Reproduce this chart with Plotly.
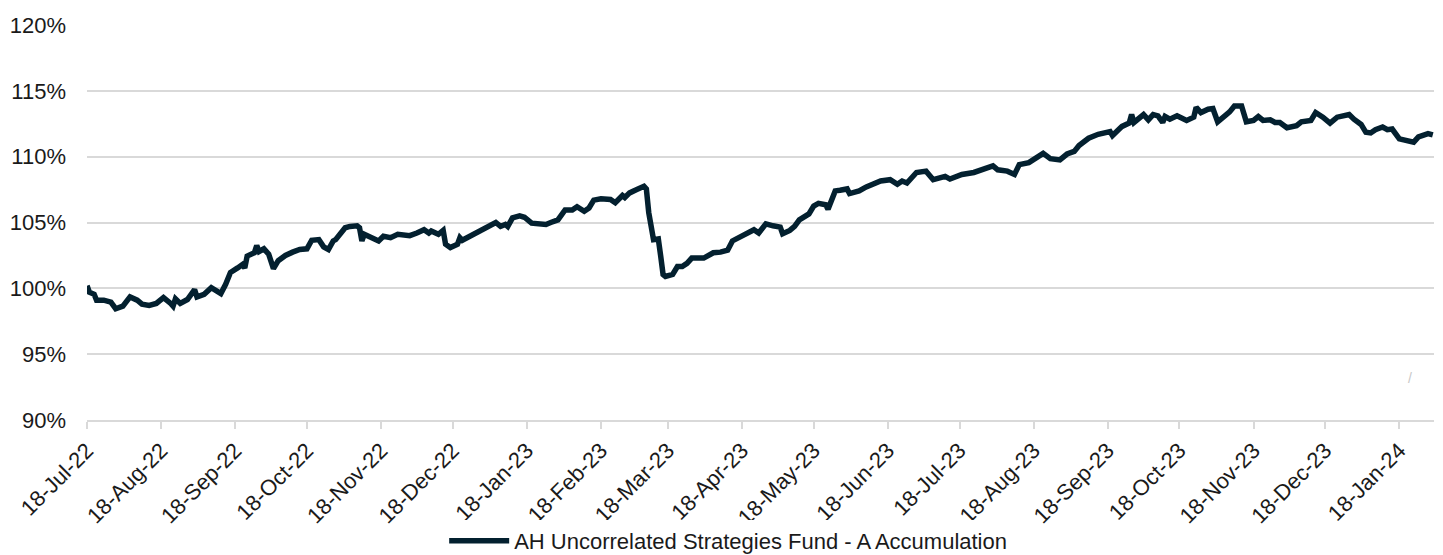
import plotly.graph_objects as go

# ---- data ----
dates = [
    "2022-07-18", "2022-07-19", "2022-07-21", "2022-07-22", "2022-07-25", "2022-07-28", "2022-07-30",
    "2022-08-02", "2022-08-05", "2022-08-08", "2022-08-10", "2022-08-13", "2022-08-16", "2022-08-19",
    "2022-08-22", "2022-08-23", "2022-08-24", "2022-08-26", "2022-08-29", "2022-09-01", "2022-09-02",
    "2022-09-05", "2022-09-08", "2022-09-10", "2022-09-12", "2022-09-14", "2022-09-16", "2022-09-19",
    "2022-09-21", "2022-09-22", "2022-09-23", "2022-09-26", "2022-09-27", "2022-09-28", "2022-09-30",
    "2022-10-02", "2022-10-04", "2022-10-06", "2022-10-09", "2022-10-12", "2022-10-15", "2022-10-18",
    "2022-10-20", "2022-10-23", "2022-10-25", "2022-10-27", "2022-10-29", "2022-10-30", "2022-11-01",
    "2022-11-03", "2022-11-05", "2022-11-08", "2022-11-09", "2022-11-10", "2022-11-11", "2022-11-14",
    "2022-11-17", "2022-11-19", "2022-11-22", "2022-11-25", "2022-11-30", "2022-12-03", "2022-12-06",
    "2022-12-08", "2022-12-09", "2022-12-12", "2022-12-14", "2022-12-15", "2022-12-17", "2022-12-20",
    "2022-12-21", "2022-12-22", "2022-12-25", "2022-12-29", "2023-01-02", "2023-01-05", "2023-01-07",
    "2023-01-09", "2023-01-10", "2023-01-12", "2023-01-15", "2023-01-17", "2023-01-20", "2023-01-23",
    "2023-01-26", "2023-01-28", "2023-01-31", "2023-02-03", "2023-02-06", "2023-02-08", "2023-02-11",
    "2023-02-13", "2023-02-15", "2023-02-18", "2023-02-22", "2023-02-24", "2023-02-27", "2023-02-28",
    "2023-03-02", "2023-03-05", "2023-03-08", "2023-03-09", "2023-03-10", "2023-03-12", "2023-03-14",
    "2023-03-15", "2023-03-16", "2023-03-17", "2023-03-20", "2023-03-22", "2023-03-24", "2023-03-26",
    "2023-03-28", "2023-04-02", "2023-04-04", "2023-04-06", "2023-04-09", "2023-04-12", "2023-04-14",
    "2023-04-17", "2023-04-20", "2023-04-23", "2023-04-25", "2023-04-28", "2023-05-01", "2023-05-04",
    "2023-05-05", "2023-05-08", "2023-05-10", "2023-05-12", "2023-05-16", "2023-05-18", "2023-05-20",
    "2023-05-23", "2023-05-24", "2023-05-26", "2023-05-27", "2023-05-29", "2023-06-01", "2023-06-02",
    "2023-06-06", "2023-06-09", "2023-06-15", "2023-06-19", "2023-06-22", "2023-06-24", "2023-06-26",
    "2023-06-30", "2023-07-04", "2023-07-07", "2023-07-12", "2023-07-14", "2023-07-19", "2023-07-24",
    "2023-07-28", "2023-08-01", "2023-08-03", "2023-08-07", "2023-08-10", "2023-08-12", "2023-08-16",
    "2023-08-18", "2023-08-22", "2023-08-25", "2023-08-29", "2023-09-01", "2023-09-04", "2023-09-06",
    "2023-09-10", "2023-09-14", "2023-09-19", "2023-09-20", "2023-09-24", "2023-09-27", "2023-09-28",
    "2023-09-29", "2023-10-02", "2023-10-03", "2023-10-05", "2023-10-07", "2023-10-09", "2023-10-11",
    "2023-10-12", "2023-10-14", "2023-10-17", "2023-10-19", "2023-10-21", "2023-10-24", "2023-10-25",
    "2023-10-27", "2023-10-30", "2023-11-01", "2023-11-03", "2023-11-06", "2023-11-08", "2023-11-10",
    "2023-11-13", "2023-11-15", "2023-11-18", "2023-11-20", "2023-11-22", "2023-11-25", "2023-11-27",
    "2023-11-29", "2023-12-02", "2023-12-06", "2023-12-08", "2023-12-12", "2023-12-14", "2023-12-17",
    "2023-12-20", "2023-12-23", "2023-12-28", "2023-12-30", "2024-01-02", "2024-01-04", "2024-01-06",
    "2024-01-08", "2024-01-11", "2024-01-13", "2024-01-15", "2024-01-18", "2024-01-20", "2024-01-24",
    "2024-01-26", "2024-01-30", "2024-02-01",
]

fund_values = [
    100.2, 99.7, 99.55, 99.1, 99.1, 98.95, 98.45,
    98.65, 99.35, 99.1, 98.8, 98.7, 98.85, 99.3,
    98.85, 98.65, 99.2, 98.85, 99.15, 99.9, 99.35,
    99.55, 100.05, 99.8, 99.6, 100.3, 101.2, 101.55,
    101.8, 101.55, 102.45, 102.7, 103.25, 102.8, 103.0,
    102.6, 101.5, 102.1, 102.5, 102.75, 102.95, 103.0,
    103.65, 103.7, 103.15, 102.95, 103.6, 103.7, 104.1,
    104.6, 104.7, 104.75, 104.6, 103.6, 104.1, 103.85,
    103.6, 103.95, 103.85, 104.1, 104.0, 104.2, 104.45,
    104.2, 104.35, 104.1, 104.4, 103.35, 103.1, 103.35,
    103.85, 103.65, 103.95, 104.25, 104.7, 105.0, 104.7,
    104.85, 104.7, 105.35, 105.5, 105.4, 104.95, 104.9,
    104.85, 105.0, 105.2, 105.95, 105.95, 106.2, 105.85,
    106.1, 106.7, 106.8, 106.75, 106.5, 107.05, 106.9,
    107.25, 107.5, 107.75, 107.55, 105.75, 103.7, 103.75,
    102.45, 101.05, 100.9, 101.05, 101.65, 101.65, 101.9,
    102.3, 102.3, 102.5, 102.7, 102.75, 102.9, 103.6,
    103.9, 104.25, 104.45, 104.2, 104.9, 104.75, 104.65,
    104.15, 104.4, 104.7, 105.2, 105.65, 106.25, 106.45,
    106.35, 106.0, 107.1, 107.4, 107.45, 107.55, 107.2,
    107.4, 107.7, 108.15, 108.25, 107.9, 108.15, 108.0,
    108.8, 108.9, 108.25, 108.5, 108.3, 108.65, 108.8,
    109.1, 109.3, 109.0, 108.9, 108.65, 109.4, 109.55,
    109.75, 110.25, 109.85, 109.75, 110.2, 110.4, 110.85,
    111.4, 111.7, 111.9, 111.6, 112.3, 112.55, 113.2,
    112.6, 113.05, 113.2, 112.8, 113.2, 113.1, 112.6,
    113.05, 112.85, 113.1, 112.9, 112.75, 113.0, 113.75,
    113.35, 113.6, 113.65, 112.65, 113.1, 113.4, 113.85,
    113.85, 112.65, 112.75, 113.05, 112.75, 112.8, 112.6,
    112.6, 112.2, 112.35, 112.65, 112.75, 113.35, 113.0,
    112.55, 113.0, 113.2, 112.85, 112.45, 111.85, 111.8,
    112.05, 112.25, 112.05, 112.1, 111.35, 111.25, 111.1,
    111.5, 111.75, 111.65,
]

series_name = "AH Uncorrelated Strategies Fund - A Accumulation"

x_tick_vals = [
    "2022-07-18", "2022-08-18", "2022-09-18", "2022-10-18", "2022-11-18", "2022-12-18",
    "2023-01-18", "2023-02-18", "2023-03-18", "2023-04-18", "2023-05-18", "2023-06-18",
    "2023-07-18", "2023-08-18", "2023-09-18", "2023-10-18", "2023-11-18", "2023-12-18",
    "2024-01-18",
]
x_tick_text = [
    "18-Jul-22", "18-Aug-22", "18-Sep-22", "18-Oct-22", "18-Nov-22", "18-Dec-22",
    "18-Jan-23", "18-Feb-23", "18-Mar-23", "18-Apr-23", "18-May-23", "18-Jun-23",
    "18-Jul-23", "18-Aug-23", "18-Sep-23", "18-Oct-23", "18-Nov-23", "18-Dec-23",
    "18-Jan-24",
]
y_tick_vals = [90, 95, 100, 105, 110, 115, 120]
y_tick_text = ["90%", "95%", "100%", "105%", "110%", "115%", "120%"]

LINE_COLOR = "#03202f"
GRID_COLOR = "#d9d9d9"
FONT = "Liberation Sans, Arial, sans-serif"

fig = go.Figure()
fig.add_trace(go.Scatter(
    x=dates, y=fund_values, mode="lines", name=series_name,
    line=dict(color=LINE_COLOR, width=5.5, shape="linear"),
    showlegend=True,
))

fig.update_layout(
    width=1435, height=547,
    margin=dict(l=79, r=9, t=17, b=135, autoexpand=False),
    paper_bgcolor="white", plot_bgcolor="white",
    font=dict(family=FONT, color="#1a1a1a", size=22),
    showlegend=True,
    legend=dict(
        orientation="h", x=0.476, xanchor="center", y=-0.306, yanchor="middle",
        font=dict(size=22, color="#1a1a1a", family=FONT),
        itemwidth=60,
    ),
    xaxis=dict(
        type="date",
        range=["2022-07-18", "2024-02-01 12:00"],
        tickmode="array", tickvals=x_tick_vals, ticktext=x_tick_text,
        tickangle=-45, tickfont=dict(size=22),
        showgrid=False, showline=True, linecolor=GRID_COLOR, linewidth=2,
        ticks="outside", ticklen=7, tickcolor=GRID_COLOR, tickwidth=2,
        zeroline=False, automargin=False,
    ),
    yaxis=dict(
        range=[90, 120],
        tickmode="array", tickvals=y_tick_vals, ticktext=y_tick_text,
        tickfont=dict(size=22),
        showgrid=True, gridcolor=GRID_COLOR, gridwidth=2,
        zeroline=False, showline=False, ticks="",
        ticklabelstandoff=20, automargin=False,
    ),
    annotations=[dict(
        xref="paper", yref="paper", x=0.985, y=0.08, text="/", showarrow=False,
        font=dict(size=14, color="#c8c8c8", family=FONT),
    )],
)

fig.write_html("out.html")
